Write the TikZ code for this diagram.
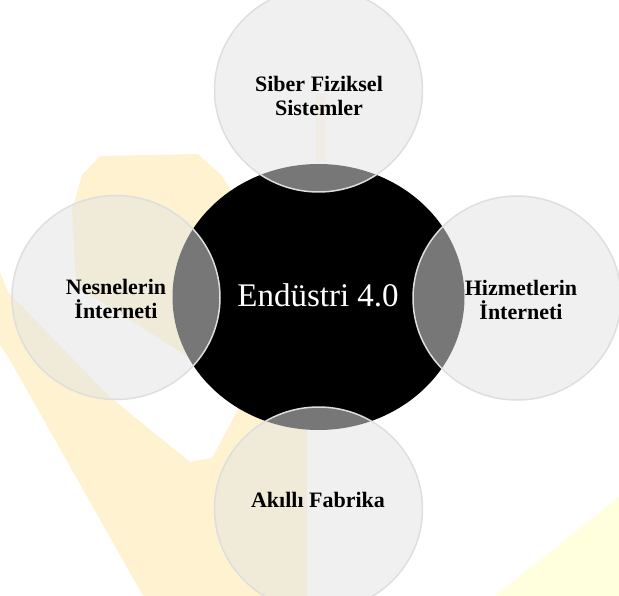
\documentclass[tikz,border=0pt]{standalone}
\usepackage{fontspec}
\setmainfont{Liberation Serif}
\usetikzlibrary{shapes.geometric}
\definecolor{wmband}{RGB}{255,242,208}
\definecolor{wmlemon}{RGB}{255,255,221}
\definecolor{satfill}{RGB}{227,227,227}
\definecolor{satline}{RGB}{222,222,222}
\begin{document}
\begin{tikzpicture}[x=1pt,y=-1pt,
    hub/.style={ellipse,fill=black,minimum width=292pt,minimum height=266pt,inner sep=0pt},
    sat/.style={ellipse,fill=satfill,fill opacity=.525,draw=satline,line width=1.5pt,
      minimum width=208pt,minimum height=204pt,inner sep=0pt},
    sattext/.style={align=center,font=\bfseries\fontsize{22}{24.5}\selectfont}]

\useasboundingbox (0,0) rectangle (619,596);
\clip (0,0) rectangle (619,596);

\fill[wmband] (100,156) -- (198,154) -- (222,176) -- (300,300) -- (307,420) -- (307,596)
  -- (143,596) -- (10,360) -- (0,345) -- (0,272) -- (8,292) -- (110,397) -- (190,462)
  -- (212,458) -- (235,415) -- (245,393) -- (130,320) -- (76,286) -- (72,210)
  -- (82,175) -- cycle;
\fill[wmband!45] (316,93) rectangle (326,162);
\fill[wmlemon] (619,497) -- (495,596) -- (619,596) -- cycle;

\node[hub] (hub) at (318.5,297) {};
\node[sat] (cps) at (318.5,90) {};
\node[sat] (iot) at (116,297.5) {};
\node[sat] (ios) at (517,298) {};
\node[sat] (fab) at (318.5,509) {};

\node[text=white,font=\fontsize{33}{36}\selectfont] (hubtext) at (318,295) {Endüstri 4.0};
\node[sattext] (cpstext) at (319,96) {Siber Fiziksel\\Sistemler};
\node[sattext] (iottext) at (116,299) {Nesnelerin\\İnterneti};
\node[sattext] (iostext) at (521,300) {Hizmetlerin\\İnterneti};
\node[sattext] (fabtext) at (318,500) {Akıllı Fabrika};
\end{tikzpicture}
\end{document}
